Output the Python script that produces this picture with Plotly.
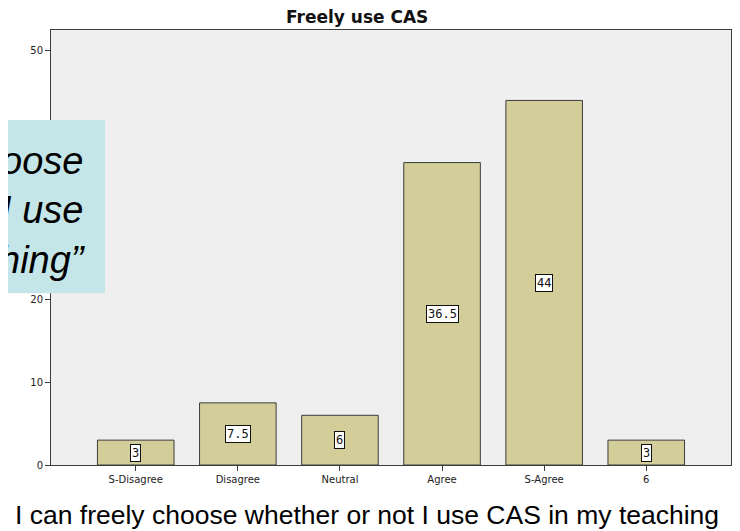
import plotly.graph_objects as go

# data
categories = ["S-Disagree", "Disagree", "Neutral", "Agree", "S-Agree", "6"]
percent = [3, 7.5, 6, 36.5, 44, 3]
value_labels = ["3", "7.5", "6", "36.5", "44", "3"]
# 30 and 40 sit behind the cyan callout in the slide, so only these show
y_ticks = [0, 10, 20, 50]

title_text = "Freely use CAS"
quote_lines = ["oose", "I use", "hing\u201d"]
caption = "I can freely choose whether or not I use CAS in my teaching"

BAR_FILL = "#d3ce99"
FRAME = "#3c3c3c"
TICK_FONT = dict(family="DejaVu Sans", size=10, color="#222")

fig = go.Figure()
fig.add_trace(go.Bar(
    x=list(range(len(categories))), y=percent,
    width=0.75,
    marker=dict(color=BAR_FILL, line=dict(color=FRAME, width=1)),
    hoverinfo="skip",
))

# value boxes in the middle of each bar
for i, (val, lab) in enumerate(zip(percent, value_labels)):
    fig.add_annotation(
        x=i, y=val / 2, text=lab, showarrow=False,
        font=dict(family="DejaVu Sans Mono", size=12, color="#111"),
        bgcolor="white", bordercolor="#111", borderwidth=1, borderpad=1,
    )

# cyan callout box on the left (cut by the page edge, as in the slide)
fig.add_shape(type="rect", xref="paper", yref="paper",
              x0=-0.08, x1=0.0794, y0=0.395, y1=0.793,
              fillcolor="#c5e6e8", line=dict(width=0), layer="above")
fig.add_annotation(
    xref="paper", yref="paper", x=0.054, y=0.586, xanchor="right", yanchor="middle",
    text="<br>".join(quote_lines), align="right", showarrow=False,
    font=dict(family="Liberation Sans", size=38, color="black", style="italic"),
)
# slide caption underneath
fig.add_annotation(
    xref="paper", yref="paper", x=0.465, y=-0.115, xanchor="center", yanchor="middle",
    text=caption, showarrow=False,
    font=dict(family="Liberation Sans", size=26.5, color="black"),
)

fig.update_layout(
    width=732, height=523,
    margin=dict(l=43, r=9, t=22, b=66),
    paper_bgcolor="white", plot_bgcolor="#efefef",
    showlegend=False,
    title=dict(text="<b>" + title_text + "</b>", x=0.477, xanchor="center", y=0.982, yanchor="middle",
               font=dict(family="DejaVu Sans", size=17, color="#111")),
    xaxis=dict(range=[-0.83, 5.83], tickvals=list(range(len(categories))), ticktext=categories,
               showgrid=False, ticks="outside", ticklen=5, tickcolor=FRAME,
               showline=True, linecolor=FRAME, linewidth=1, mirror=True, tickfont=TICK_FONT),
    yaxis=dict(range=[0, 52.5], tickvals=y_ticks, showgrid=False, zeroline=False,
               ticks="outside", ticklen=5, tickcolor=FRAME, showline=True, linecolor=FRAME,
               linewidth=1, mirror=True, tickfont=TICK_FONT),
)

fig.write_html("out.html")
